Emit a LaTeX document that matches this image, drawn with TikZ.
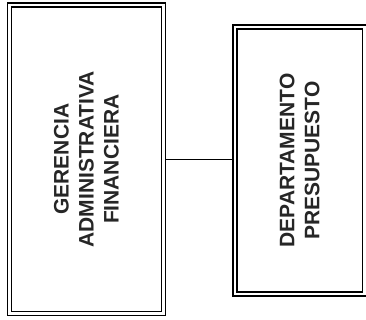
\documentclass[tikz,border=0pt]{standalone}
\usepackage{fontspec}
\setmainfont{Liberation Sans}
\usepackage{tikz}

\tikzset{
    caja/.style={draw=black, line width=1.6pt, double, double distance=2.6pt,
        outer sep=2.9pt, rotate=90, align=center, inner sep=0pt,
        font=\fontsize{21}{25}\selectfont\bfseries, text=black!85},
}

\begin{document}
\begin{tikzpicture}[x=1pt, y=1pt]
    % Marco
    \useasboundingbox (0,0) rectangle (366,320);

    % Cajas
    \node[caja, minimum width=308.5pt, minimum height=154pt] (gerencia) at (86.5,160.75)
        {GERENCIA\\ADMINISTRATIVA\\FINANCIERA};
    \node[caja, minimum width=267pt, minimum height=129.5pt] (presupuesto) at (299.75,159.5)
        {DEPARTAMENTO\\PRESUPUESTO};

    % Linea de union
    \draw[black, line width=1.4pt] (gerencia.south) -- (gerencia.south -| presupuesto.north);
\end{tikzpicture}
\end{document}
